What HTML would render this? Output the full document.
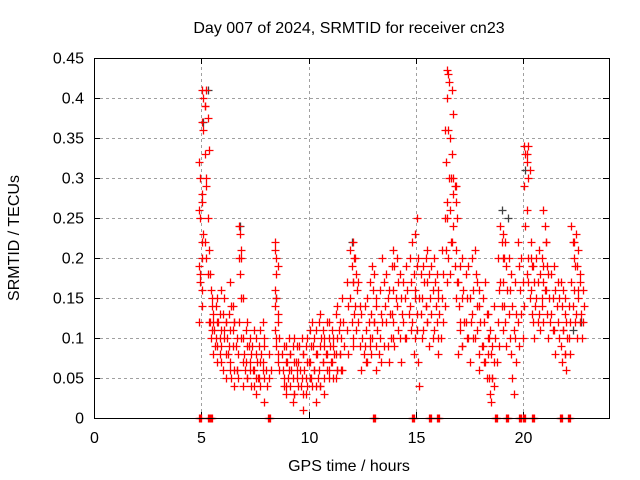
<!DOCTYPE html>
<html><head><meta charset="utf-8"><style>
body{margin:0;background:#fff;}
svg{display:block;font-family:"Liberation Sans",sans-serif;}
</style></head><body>
<svg id="chart" width="640" height="480" viewBox="0 0 640 480">
<text x="349" y="33" font-size="16" text-anchor="middle">Day 007 of 2024, SRMTID for receiver cn23</text>
<text transform="translate(19,238) rotate(-90)" font-size="16" text-anchor="middle">SRMTID / TECUs</text>
<text x="349" y="471" font-size="16" text-anchor="middle">GPS time / hours</text>
<g id="grid"></g><g id="ticks"></g><g id="marks"></g>
<rect x="94.5" y="58.5" width="515" height="360" fill="none" stroke="#000" stroke-width="1"/>
</svg>
<script>
const xTicks=[0,5,10,15,20];
const yTicks=[0,0.05,0.1,0.15,0.2,0.25,0.3,0.35,0.4,0.45];
const yTickLabels=["0","0.05","0.1","0.15","0.2","0.25","0.3","0.35","0.4","0.45"];
const redHours=[4.95,5.1,5.3,5.5,5.6,5.8,6.0,6.2,6.4,6.6,6.8,7.0,7.2,7.4,7.6,7.8,8.0,8.5,8.8,9.0,9.2,9.4,9.6,9.8,10.0,10.2,10.4,10.6,10.8,11.0,11.2,11.4,11.6,12.0,12.2,12.5,12.8,13.0,13.2,13.5,13.8,14.0,14.3,14.6,14.9,15.1,15.4,15.6,15.9,16.1,16.4,16.5,16.8,17.0,17.2,17.5,17.8,18.0,18.3,18.5,18.7,19.0,19.2,19.5,19.8,20.1,20.3,20.5,20.8,21.0,21.2,21.5,21.8,22.0,22.3,22.5,22.7];
const redValues=[
[0.32,0.3,0.28,0.26,0.25,0.22,0.19,0.18,0.14,0.12,0.17],
[0.41,0.4,0.39,0.37,0.36,0.33,0.27],
[0.41,0.375,0.335,0.29,0.25,0.21,0.2,0.18,0.12],
[0.16,0.14,0.12,0.1],[0.13,0.11,0.09,0.08],[0.15,0.12,0.1,0.07],[0.16,0.13,0.11,0.09,0.06],[0.12,0.1,0.08,0.05],[0.17,0.14,0.11,0.07,0.05],[0.12,0.09,0.06,0.04],
[0.24,0.23,0.21,0.2,0.18,0.15,0.12],
[0.1,0.08,0.06,0.04],[0.12,0.09,0.07,0.05],[0.09,0.06,0.04],[0.1,0.07,0.05,0.03],[0.11,0.08,0.06],[0.09,0.06,0.04,0.02],
[0.22,0.2,0.19,0.16,0.15,0.13,0.11,0.09,0.07],
[0.08,0.06,0.04],[0.09,0.07,0.05,0.03],[0.08,0.06,0.02],[0.1,0.07,0.05,0.03],[0.09,0.06,0.04],[0.08,0.06,0.03,0.01],[0.1,0.07,0.05],[0.12,0.09,0.06,0.04],[0.11,0.08,0.05,0.02],[0.13,0.1,0.07,0.04],[0.1,0.08,0.06,0.03],[0.12,0.09,0.07,0.05],[0.1,0.08,0.05],[0.14,0.11,0.08,0.06],[0.15,0.12,0.09,0.06],
[0.21,0.19,0.17,0.15,0.12,0.09],[0.2,0.18,0.16,0.14,0.11],[0.13,0.1,0.08,0.06],[0.15,0.12,0.09,0.07],[0.19,0.16,0.12,0.1],[0.14,0.11,0.08,0.06],[0.2,0.17,0.14,0.12,0.09],[0.16,0.13,0.1,0.07],[0.21,0.19,0.15,0.12,0.09],[0.18,0.15,0.13,0.1,0.07],[0.19,0.16,0.13,0.1],[0.22,0.18,0.15,0.12,0.08],[0.25,0.2,0.15,0.11,0.07,0.04],[0.19,0.17,0.14,0.11],[0.21,0.18,0.15,0.12,0.09],[0.2,0.17,0.14,0.11],[0.16,0.13,0.1,0.08],
[0.36,0.32,0.27,0.25,0.21,0.17,0.14],[0.435,0.43,0.42,0.4,0.36,0.3,0.25,0.2],[0.3,0.29,0.27,0.24,0.19,0.15],
[0.17,0.14,0.11,0.08],[0.2,0.16,0.12,0.09],[0.19,0.15,0.12,0.1,0.07],[0.21,0.18,0.14,0.1],[0.16,0.12,0.09,0.06],[0.17,0.13,0.1,0.07,0.05],[0.11,0.08,0.05,0.03,0.02],[0.14,0.1,0.07],
[0.24,0.22,0.2,0.17,0.14,0.11],[0.22,0.19,0.16,0.12,0.09],[0.18,0.14,0.11,0.08,0.05,0.03],[0.22,0.19,0.16,0.12,0.09],
[0.34,0.33,0.32,0.29,0.24,0.18,0.14],[0.34,0.31,0.2,0.17,0.15],[0.19,0.17,0.14,0.12,0.1],[0.21,0.18,0.15,0.13,0.11],[0.26,0.24,0.22,0.19,0.16],[0.18,0.15,0.12,0.1],[0.19,0.16,0.14,0.11,0.08],[0.17,0.14,0.11,0.09,0.07],[0.15,0.12,0.1,0.08,0.06],[0.24,0.22,0.2,0.17,0.14],[0.23,0.19,0.16,0.13,0.1],[0.17,0.13,0.1]
];
const redHours2=[5.05,5.2,5.45,5.7,5.9,6.1,6.3,6.5,6.7,6.9,7.1,7.3,7.5,7.7,7.9,8.2,8.45,8.6,8.9,9.1,9.3,9.5,9.7,9.9,10.1,10.3,10.5,10.7,10.9,11.1,11.3,11.5,11.8,12.1,12.35,12.65,12.9,13.1,13.35,13.65,13.9,14.15,14.45,14.75,15.0,15.25,15.5,15.75,16.0,16.25,16.6,16.7,16.9,17.1,17.35,17.65,17.9,18.15,18.4,18.6,18.85,19.1,19.35,19.65,19.95,20.2,20.4,20.65,20.9,21.1,21.35,21.65,21.9,22.15,22.4,22.6,22.8];
const redValues2=[
[0.2,0.23,0.16],[0.39,0.3,0.22],[0.18,0.15,0.12,0.11],[0.14,0.12,0.1,0.09],[0.13,0.11,0.08,0.07],[0.15,0.12,0.1,0.08],[0.13,0.11,0.09,0.06],[0.14,0.12,0.09,0.06],[0.1,0.08,0.06,0.05],[0.2,0.15,0.1,0.07],[0.11,0.09,0.07,0.05],[0.1,0.08,0.06,0.04],[0.11,0.08,0.06,0.05],[0.09,0.07,0.05,0.04],[0.12,0.1,0.07,0.05],[0.08,0.06,0.05],[0.21,0.18,0.14,0.1],[0.12,0.1,0.08,0.06],[0.09,0.07,0.05,0.04],[0.1,0.08,0.06,0.04],[0.09,0.07,0.05,0.03],[0.09,0.07,0.06,0.04],[0.1,0.08,0.05,0.03],[0.09,0.07,0.05,0.04],[0.11,0.09,0.07,0.05],[0.1,0.08,0.06,0.04],[0.12,0.09,0.06,0.04],[0.11,0.09,0.07,0.05],[0.12,0.1,0.08,0.06],[0.11,0.09,0.07,0.05],[0.13,0.1,0.08,0.06],[0.12,0.1,0.08,0.06],[0.17,0.14,0.11,0.08],[0.22,0.2,0.17,0.13,0.1],[0.17,0.14,0.12,0.09],[0.14,0.11,0.09,0.07],[0.17,0.13,0.1,0.08],[0.18,0.15,0.12,0.09],[0.16,0.13,0.1,0.07],[0.18,0.15,0.12,0.09],[0.19,0.16,0.13,0.1],[0.2,0.17,0.14,0.11],[0.17,0.15,0.12,0.1],[0.2,0.17,0.14,0.11],[0.23,0.19,0.16,0.13,0.1],[0.18,0.15,0.13,0.1],[0.2,0.17,0.14,0.12],[0.19,0.16,0.13,0.1],[0.18,0.15,0.12,0.1],[0.21,0.18,0.15,0.12],[0.35,0.3,0.26,0.22,0.18],[0.41,0.38,0.33,0.28,0.22],[0.29,0.25,0.21,0.17],[0.19,0.15,0.12,0.09],[0.18,0.15,0.12,0.1],[0.2,0.16,0.13,0.1],[0.17,0.14,0.11,0.08],[0.15,0.12,0.09,0.07],[0.13,0.1,0.08,0.05],[0.09,0.07,0.05,0.04],[0.2,0.16,0.12,0.09],[0.23,0.2,0.17,0.14],[0.2,0.16,0.13,0.1],[0.17,0.13,0.1,0.07],[0.2,0.17,0.13,0.1],[0.33,0.3,0.26,0.2],[0.22,0.19,0.16,0.13],[0.2,0.17,0.15,0.12],[0.2,0.17,0.14,0.12],[0.22,0.19,0.16,0.13],[0.18,0.15,0.13,0.11],[0.17,0.15,0.12,0.1],[0.16,0.13,0.11,0.08],[0.14,0.12,0.1,0.08],[0.22,0.19,0.16,0.12],[0.21,0.18,0.15,0.12],[0.16,0.14,0.12]
];
const zeroHours=[4.9,5.3,5.4,8.1,13.0,14.8,15.6,16.0,18.7,19.2,19.8,20.0,20.4,21.7,22.1];
const blackHours=[5.3,5.1,6.8,8.5,12.0,19.0,19.3,20.1,22.7,22.3];
const blackValues=[0.41,0.37,0.24,0.15,0.22,0.26,0.25,0.31,0.12,0.11];

const NS="http://www.w3.org/2000/svg";
const X0=94,X1=609,Y0=418,Y1=58;
function xs(h){return X0+(X1-X0)*h/24;}
function ys(v){return Y0-(Y0-Y1)*v/0.45;}
const grid=document.getElementById('grid'),ticks=document.getElementById('ticks'),marks=document.getElementById('marks');
function mk(tag,attrs,parent){const e=document.createElementNS(NS,tag);for(const k in attrs)e.setAttribute(k,attrs[k]);parent.appendChild(e);return e;}
yTicks.forEach((t,i)=>{
  const y=Math.round(ys(t))+0.5;
  if(i>0&&i<yTicks.length-1){const g=mk('line',{x1:X0,x2:X1,y1:y,y2:y,stroke:'#a0a0a0','stroke-dasharray':'3,3'},grid);
  
  }
  mk('line',{x1:X0,x2:X0+6,y1:y,y2:y,stroke:'#000'},ticks);
  mk('line',{x1:X1-6,x2:X1,y1:y,y2:y,stroke:'#000'},ticks);
  const tx=mk('text',{x:84,y:y+5,'font-size':16,'text-anchor':'end'},ticks);
  tx.textContent=yTickLabels[i];
  
  
});
xTicks.forEach(t=>{
  const x=Math.round(xs(t))+0.5;
  if(t>0){const g=mk('line',{x1:x,x2:x,y1:Y0,y2:Y1,stroke:'#a0a0a0','stroke-dasharray':'3,3'},grid);
  
  }
  mk('line',{x1:x,x2:x,y1:Y0,y2:Y0-6,stroke:'#000'},ticks);
  mk('line',{x1:x,x2:x,y1:Y1,y2:Y1+6,stroke:'#000'},ticks);
  const tx=mk('text',{x:x,y:443,'font-size':16,'text-anchor':'middle'},ticks);
  tx.textContent=String(t);
  
  
});
function plus(h,v,color,name){
  const x=Math.round(xs(h))+0.5,y=Math.round(ys(v))+0.5;
  const p=mk('path',{d:`M${x-4} ${y}H${x+4}M${x} ${y-4}V${y+4}`,stroke:color,'stroke-width':1.3,fill:'none'},marks);
  
  
}
blackHours.forEach((h,i)=>plus(h,blackValues[i],'#404040','black-point'));
redHours.forEach((h,i)=>redValues[i].forEach((v,j)=>plus(h+((j%3)-1)*0.06,v,'#ff0000','red-point')));
redHours2.forEach((h,i)=>redValues2[i].forEach((v,j)=>plus(h+((j%2)-0.5)*0.06,v,'#ff0000','red-point')));
zeroHours.forEach(h=>{plus(h,0,'#ff0000','zero-point');plus(h+0.05,0,'#ff0000','zero-point');plus(h+0.1,0,'#ff0000','zero-point');});
</script>
</body></html>
